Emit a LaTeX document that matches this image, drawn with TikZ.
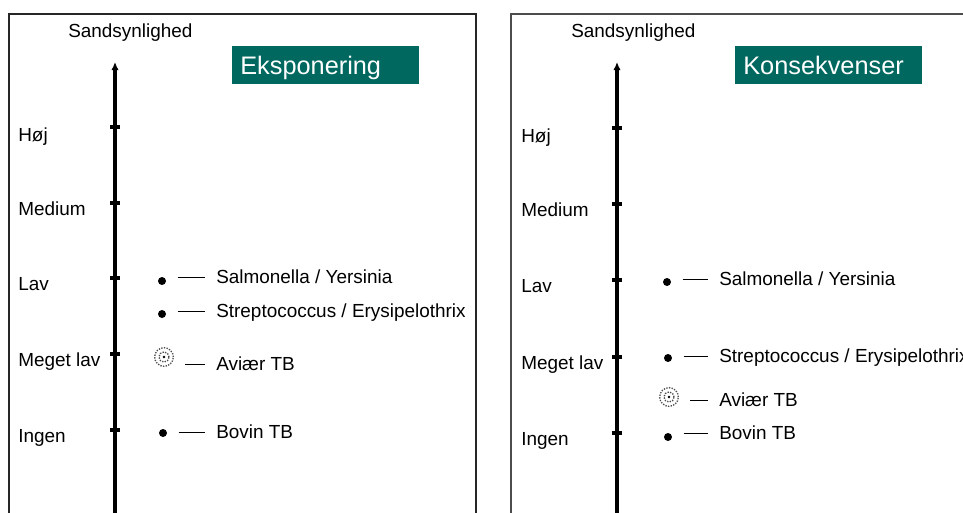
\documentclass[tikz,border=0pt]{standalone}
\usepackage{fontspec}
\setmainfont{Liberation Sans}
\usetikzlibrary{arrows.meta, positioning}

\definecolor{boxgreen}{HTML}{00685F}

\tikzset{
  level/.style={font=\fontsize{14.2}{16}\selectfont, anchor=west, inner sep=0pt,
                text height=1.0em, text depth=0pt},
  item/.style={level},
  panel/.style={line width=0.8pt, draw=black!85},
  axis/.style={line width=2.3pt, -{Latex[length=6pt,width=5.5pt]}},
  tick/.style={line width=2.4pt},
  dot/.style={circle, fill=black, inner sep=0pt, minimum size=6pt},
  avdot/.style={circle, inner sep=0pt, minimum size=14pt, draw=black!70,
                densely dotted, line width=1pt,
                path picture={
                  \draw[black!70, densely dotted, line width=1pt]
                    (path picture bounding box.center) circle (3.8pt);
                  \fill[black] (path picture bounding box.center) circle (1.1pt);
                }},
  leader/.style={line width=0.7pt, shorten <=8.5pt, shorten >=8pt},
  titlebox/.style={fill=boxgreen, text=white, font=\fontsize{19}{22}\selectfont,
                   anchor=north west, inner xsep=6pt, inner ysep=0pt,
                   text width=128pt, align=left, minimum height=28.5pt,
                   text height=1.35em, text depth=0pt}
}

\begin{document}
\begin{tikzpicture}[x=0.75pt, y=-0.75pt]
  \useasboundingbox (0,0) rectangle (963,512);
  \clip (0,0) rectangle (963,512);

  % ---------- Left panel: Eksponering ----------
  \draw[panel] (9,600) -- (9,14) -- (476,14) -- (476,600);
  \node[level] (lhead) at (68,31) {Sandsynlighed};
  \node[titlebox] (ltitle) at (232,46) {Eksponering};

  % Axis with ticks
  \draw[axis] (115,540) -- (115,62);
  \foreach \yy in {127,203,278,354,430}
    \draw[tick] (110,\yy) -- (120,\yy);

  % Levels
  \foreach \name/\yy/\txt in {hoj/135/Høj, med/209/Medium, lav/284/Lav,
                              mlav/360/Meget lav, ing/436/Ingen}
    \node[level] (l\name) at (18,\yy) {\txt};

  % Items
  \node[dot] (ld1) at (162,281) {};
  \node[item] (ls1) at (216,277) {Salmonella / Yersinia};
  \node[dot] (ld2) at (162,314) {};
  \node[item] (ls2) at (216,311) {Streptococcus / Erysipelothrix};
  \node[avdot] (ld3) at (164,357) {};
  \node[item] (ls3) at (216,364) {Aviær TB};
  \node[dot] (ld4) at (163,433) {};
  \node[item] (ls4) at (216,432) {Bovin TB};

  \foreach \i in {1,...,4}
    \draw[leader] (ls\i.west -| ld\i.east) -- (ls\i.west);

  % ---------- Right panel: Konsekvenser ----------
  \draw[panel, draw=black!70] (511,600) -- (511,14) -- (1000,14);
  \node[level] (rhead) at (571,31) {Sandsynlighed};
  \node[titlebox] (rtitle) at (735,46) {Konsekvenser};

  % Axis with ticks
  \draw[axis] (617,540) -- (617,62);
  \foreach \yy in {128,204,280,357,433}
    \draw[tick] (612,\yy) -- (622,\yy);

  % Levels
  \foreach \name/\yy/\txt in {hoj/136/Høj, med/210/Medium, lav/286/Lav,
                              mlav/363/Meget lav, ing/439/Ingen}
    \node[level] (r\name) at (521,\yy) {\txt};

  % Items
  \node[dot] (rd1) at (667,282) {};
  \node[item] (rs1) at (719,279) {Salmonella / Yersinia};
  \node[dot] (rd2) at (668,358) {};
  \node[item] (rs2) at (719,356) {Streptococcus / Erysipelothrix};
  \node[avdot] (rd3) at (669,397) {};
  \node[item] (rs3) at (719,400) {Aviær TB};
  \node[dot] (rd4) at (668,437) {};
  \node[item] (rs4) at (719,433) {Bovin TB};

  \foreach \i in {1,...,4}
    \draw[leader] (rs\i.west -| rd\i.east) -- (rs\i.west);
\end{tikzpicture}
\end{document}
